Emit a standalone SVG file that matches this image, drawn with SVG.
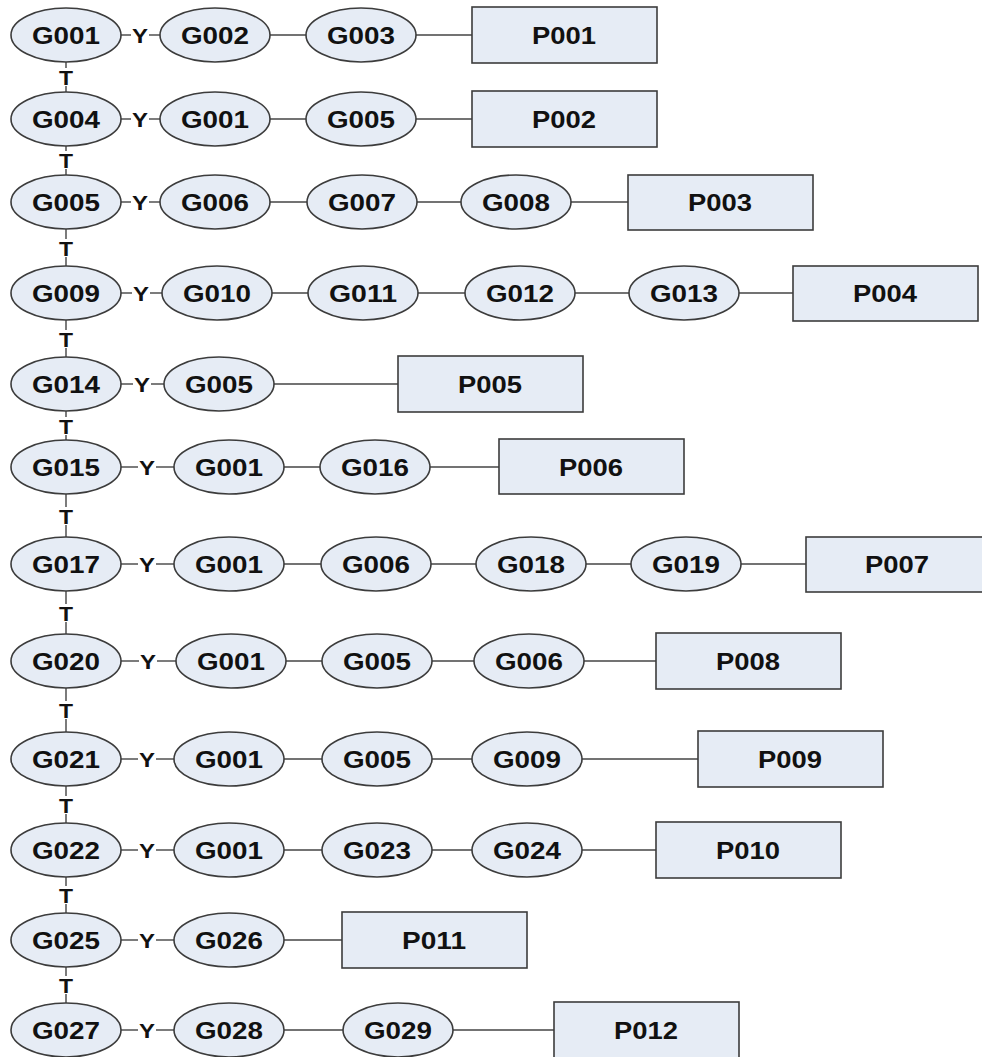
<svg xmlns="http://www.w3.org/2000/svg" width="982" height="1057" viewBox="0 0 982 1057">
<style>
.n{fill:#e6ecf5;stroke:#3c3c3c;stroke-width:1.6}
.p{fill:#e6ecf5;stroke:#3c3c3c;stroke-width:1.6}
.lb{font-family:"Liberation Sans",Arial,sans-serif;font-weight:bold;font-size:24px;fill:#111;text-anchor:middle}
.ty{font-family:"Liberation Sans",Arial,sans-serif;font-weight:bold;font-size:21px;fill:#111;text-anchor:middle}
.c line{stroke:#444;stroke-width:1.4}
</style>
<rect width="982" height="1057" fill="#fff"/>
<g class="c" id="connectors">
<line x1="121" y1="35" x2="131" y2="35"/><line x1="149" y1="35" x2="160" y2="35"/>
<line x1="270" y1="35" x2="306" y2="35"/><line x1="416" y1="35" x2="472" y2="35"/>
<line x1="121" y1="119" x2="131" y2="119"/><line x1="149" y1="119" x2="160" y2="119"/>
<line x1="270" y1="119" x2="306" y2="119"/><line x1="416" y1="119" x2="472" y2="119"/>
<line x1="121" y1="202" x2="131" y2="202"/><line x1="149" y1="202" x2="160" y2="202"/>
<line x1="270" y1="202" x2="307" y2="202"/><line x1="417" y1="202" x2="461" y2="202"/><line x1="571" y1="202" x2="628" y2="202"/>
<line x1="121" y1="293" x2="132" y2="293"/><line x1="150" y1="293" x2="162" y2="293"/>
<line x1="272" y1="293" x2="308" y2="293"/><line x1="418" y1="293" x2="465" y2="293"/><line x1="575" y1="293" x2="629" y2="293"/><line x1="739" y1="293" x2="793" y2="293"/>
<line x1="121" y1="384" x2="133" y2="384"/><line x1="151" y1="384" x2="164" y2="384"/>
<line x1="274" y1="384" x2="398" y2="384"/>
<line x1="121" y1="467" x2="138" y2="467"/><line x1="156" y1="467" x2="174" y2="467"/>
<line x1="284" y1="467" x2="320" y2="467"/><line x1="430" y1="467" x2="499" y2="467"/>
<line x1="121" y1="564" x2="138" y2="564"/><line x1="156" y1="564" x2="174" y2="564"/>
<line x1="284" y1="564" x2="321" y2="564"/><line x1="431" y1="564" x2="476" y2="564"/><line x1="586" y1="564" x2="631" y2="564"/><line x1="741" y1="564" x2="806" y2="564"/>
<line x1="121" y1="661" x2="139" y2="661"/><line x1="157" y1="661" x2="176" y2="661"/>
<line x1="286" y1="661" x2="322" y2="661"/><line x1="432" y1="661" x2="474" y2="661"/><line x1="584" y1="661" x2="656" y2="661"/>
<line x1="121" y1="759" x2="138" y2="759"/><line x1="156" y1="759" x2="174" y2="759"/>
<line x1="284" y1="759" x2="322" y2="759"/><line x1="432" y1="759" x2="472" y2="759"/><line x1="582" y1="759" x2="698" y2="759"/>
<line x1="121" y1="850" x2="138" y2="850"/><line x1="156" y1="850" x2="174" y2="850"/>
<line x1="284" y1="850" x2="322" y2="850"/><line x1="432" y1="850" x2="472" y2="850"/><line x1="582" y1="850" x2="656" y2="850"/>
<line x1="121" y1="940" x2="138" y2="940"/><line x1="156" y1="940" x2="174" y2="940"/>
<line x1="284" y1="940" x2="342" y2="940"/>
<line x1="121" y1="1030" x2="138" y2="1030"/><line x1="156" y1="1030" x2="174" y2="1030"/>
<line x1="284" y1="1030" x2="343" y2="1030"/><line x1="453" y1="1030" x2="554" y2="1030"/>
<line x1="66" y1="62" x2="66" y2="68"/><line x1="66" y1="86" x2="66" y2="92"/>
<line x1="66" y1="146" x2="66" y2="151"/><line x1="66" y1="169" x2="66" y2="175"/>
<line x1="66" y1="229" x2="66" y2="239"/><line x1="66" y1="257" x2="66" y2="266"/>
<line x1="66" y1="320" x2="66" y2="330"/><line x1="66" y1="348" x2="66" y2="357"/>
<line x1="66" y1="411" x2="66" y2="417"/><line x1="66" y1="435" x2="66" y2="440"/>
<line x1="66" y1="494" x2="66" y2="507"/><line x1="66" y1="525" x2="66" y2="537"/>
<line x1="66" y1="591" x2="66" y2="604"/><line x1="66" y1="622" x2="66" y2="634"/>
<line x1="66" y1="688" x2="66" y2="701"/><line x1="66" y1="719" x2="66" y2="732"/>
<line x1="66" y1="786" x2="66" y2="796"/><line x1="66" y1="814" x2="66" y2="823"/>
<line x1="66" y1="877" x2="66" y2="886"/><line x1="66" y1="904" x2="66" y2="913"/>
<line x1="66" y1="967" x2="66" y2="976"/><line x1="66" y1="994" x2="66" y2="1003"/>
</g>
<g id="edge-labels">
<text class="ty" x="66" y="85" textLength="14" lengthAdjust="spacingAndGlyphs">T</text>
<text class="ty" x="66" y="168" textLength="14" lengthAdjust="spacingAndGlyphs">T</text>
<text class="ty" x="66" y="256" textLength="14" lengthAdjust="spacingAndGlyphs">T</text>
<text class="ty" x="66" y="347" textLength="14" lengthAdjust="spacingAndGlyphs">T</text>
<text class="ty" x="66" y="434" textLength="14" lengthAdjust="spacingAndGlyphs">T</text>
<text class="ty" x="66" y="524" textLength="14" lengthAdjust="spacingAndGlyphs">T</text>
<text class="ty" x="66" y="621" textLength="14" lengthAdjust="spacingAndGlyphs">T</text>
<text class="ty" x="66" y="718" textLength="14" lengthAdjust="spacingAndGlyphs">T</text>
<text class="ty" x="66" y="813" textLength="14" lengthAdjust="spacingAndGlyphs">T</text>
<text class="ty" x="66" y="903" textLength="14" lengthAdjust="spacingAndGlyphs">T</text>
<text class="ty" x="66" y="993" textLength="14" lengthAdjust="spacingAndGlyphs">T</text>
<text class="ty" x="140" y="43" textLength="16" lengthAdjust="spacingAndGlyphs">Y</text>
<text class="ty" x="140" y="127" textLength="16" lengthAdjust="spacingAndGlyphs">Y</text>
<text class="ty" x="140" y="210" textLength="16" lengthAdjust="spacingAndGlyphs">Y</text>
<text class="ty" x="141" y="301" textLength="16" lengthAdjust="spacingAndGlyphs">Y</text>
<text class="ty" x="142" y="392" textLength="16" lengthAdjust="spacingAndGlyphs">Y</text>
<text class="ty" x="147" y="475" textLength="16" lengthAdjust="spacingAndGlyphs">Y</text>
<text class="ty" x="147" y="572" textLength="16" lengthAdjust="spacingAndGlyphs">Y</text>
<text class="ty" x="148" y="669" textLength="16" lengthAdjust="spacingAndGlyphs">Y</text>
<text class="ty" x="147" y="767" textLength="16" lengthAdjust="spacingAndGlyphs">Y</text>
<text class="ty" x="147" y="858" textLength="16" lengthAdjust="spacingAndGlyphs">Y</text>
<text class="ty" x="147" y="948" textLength="16" lengthAdjust="spacingAndGlyphs">Y</text>
<text class="ty" x="147" y="1038" textLength="16" lengthAdjust="spacingAndGlyphs">Y</text>
</g>
<g id="r1-G001"><ellipse class="n" cx="66" cy="35" rx="55" ry="27"/><text class="lb" x="66" y="44" textLength="68" lengthAdjust="spacingAndGlyphs">G001</text></g>
<g id="r1-G002"><ellipse class="n" cx="215" cy="35" rx="55" ry="27"/><text class="lb" x="215" y="44" textLength="68" lengthAdjust="spacingAndGlyphs">G002</text></g>
<g id="r1-G003"><ellipse class="n" cx="361" cy="35" rx="55" ry="27"/><text class="lb" x="361" y="44" textLength="68" lengthAdjust="spacingAndGlyphs">G003</text></g>
<g id="r1-P001"><rect class="p" x="472" y="7" width="185" height="56"/><text class="lb" x="564" y="44" textLength="64" lengthAdjust="spacingAndGlyphs">P001</text></g>
<g id="r2-G004"><ellipse class="n" cx="66" cy="119" rx="55" ry="27"/><text class="lb" x="66" y="128" textLength="68" lengthAdjust="spacingAndGlyphs">G004</text></g>
<g id="r2-G001"><ellipse class="n" cx="215" cy="119" rx="55" ry="27"/><text class="lb" x="215" y="128" textLength="68" lengthAdjust="spacingAndGlyphs">G001</text></g>
<g id="r2-G005"><ellipse class="n" cx="361" cy="119" rx="55" ry="27"/><text class="lb" x="361" y="128" textLength="68" lengthAdjust="spacingAndGlyphs">G005</text></g>
<g id="r2-P002"><rect class="p" x="472" y="91" width="185" height="56"/><text class="lb" x="564" y="128" textLength="64" lengthAdjust="spacingAndGlyphs">P002</text></g>
<g id="r3-G005"><ellipse class="n" cx="66" cy="202" rx="55" ry="27"/><text class="lb" x="66" y="211" textLength="68" lengthAdjust="spacingAndGlyphs">G005</text></g>
<g id="r3-G006"><ellipse class="n" cx="215" cy="202" rx="55" ry="27"/><text class="lb" x="215" y="211" textLength="68" lengthAdjust="spacingAndGlyphs">G006</text></g>
<g id="r3-G007"><ellipse class="n" cx="362" cy="202" rx="55" ry="27"/><text class="lb" x="362" y="211" textLength="68" lengthAdjust="spacingAndGlyphs">G007</text></g>
<g id="r3-G008"><ellipse class="n" cx="516" cy="202" rx="55" ry="27"/><text class="lb" x="516" y="211" textLength="68" lengthAdjust="spacingAndGlyphs">G008</text></g>
<g id="r3-P003"><rect class="p" x="628" y="175" width="185" height="55"/><text class="lb" x="720" y="211" textLength="64" lengthAdjust="spacingAndGlyphs">P003</text></g>
<g id="r4-G009"><ellipse class="n" cx="66" cy="293" rx="55" ry="27"/><text class="lb" x="66" y="302" textLength="68" lengthAdjust="spacingAndGlyphs">G009</text></g>
<g id="r4-G010"><ellipse class="n" cx="217" cy="293" rx="55" ry="27"/><text class="lb" x="217" y="302" textLength="68" lengthAdjust="spacingAndGlyphs">G010</text></g>
<g id="r4-G011"><ellipse class="n" cx="363" cy="293" rx="55" ry="27"/><text class="lb" x="363" y="302" textLength="68" lengthAdjust="spacingAndGlyphs">G011</text></g>
<g id="r4-G012"><ellipse class="n" cx="520" cy="293" rx="55" ry="27"/><text class="lb" x="520" y="302" textLength="68" lengthAdjust="spacingAndGlyphs">G012</text></g>
<g id="r4-G013"><ellipse class="n" cx="684" cy="293" rx="55" ry="27"/><text class="lb" x="684" y="302" textLength="68" lengthAdjust="spacingAndGlyphs">G013</text></g>
<g id="r4-P004"><rect class="p" x="793" y="266" width="185" height="55"/><text class="lb" x="885" y="302" textLength="64" lengthAdjust="spacingAndGlyphs">P004</text></g>
<g id="r5-G014"><ellipse class="n" cx="66" cy="384" rx="55" ry="27"/><text class="lb" x="66" y="393" textLength="68" lengthAdjust="spacingAndGlyphs">G014</text></g>
<g id="r5-G005"><ellipse class="n" cx="219" cy="384" rx="55" ry="27"/><text class="lb" x="219" y="393" textLength="68" lengthAdjust="spacingAndGlyphs">G005</text></g>
<g id="r5-P005"><rect class="p" x="398" y="356" width="185" height="56"/><text class="lb" x="490" y="393" textLength="64" lengthAdjust="spacingAndGlyphs">P005</text></g>
<g id="r6-G015"><ellipse class="n" cx="66" cy="467" rx="55" ry="27"/><text class="lb" x="66" y="476" textLength="68" lengthAdjust="spacingAndGlyphs">G015</text></g>
<g id="r6-G001"><ellipse class="n" cx="229" cy="467" rx="55" ry="27"/><text class="lb" x="229" y="476" textLength="68" lengthAdjust="spacingAndGlyphs">G001</text></g>
<g id="r6-G016"><ellipse class="n" cx="375" cy="467" rx="55" ry="27"/><text class="lb" x="375" y="476" textLength="68" lengthAdjust="spacingAndGlyphs">G016</text></g>
<g id="r6-P006"><rect class="p" x="499" y="439" width="185" height="55"/><text class="lb" x="591" y="476" textLength="64" lengthAdjust="spacingAndGlyphs">P006</text></g>
<g id="r7-G017"><ellipse class="n" cx="66" cy="564" rx="55" ry="27"/><text class="lb" x="66" y="573" textLength="68" lengthAdjust="spacingAndGlyphs">G017</text></g>
<g id="r7-G001"><ellipse class="n" cx="229" cy="564" rx="55" ry="27"/><text class="lb" x="229" y="573" textLength="68" lengthAdjust="spacingAndGlyphs">G001</text></g>
<g id="r7-G006"><ellipse class="n" cx="376" cy="564" rx="55" ry="27"/><text class="lb" x="376" y="573" textLength="68" lengthAdjust="spacingAndGlyphs">G006</text></g>
<g id="r7-G018"><ellipse class="n" cx="531" cy="564" rx="55" ry="27"/><text class="lb" x="531" y="573" textLength="68" lengthAdjust="spacingAndGlyphs">G018</text></g>
<g id="r7-G019"><ellipse class="n" cx="686" cy="564" rx="55" ry="27"/><text class="lb" x="686" y="573" textLength="68" lengthAdjust="spacingAndGlyphs">G019</text></g>
<g id="r7-P007"><rect class="p" x="806" y="537" width="185" height="55"/><text class="lb" x="897" y="573" textLength="64" lengthAdjust="spacingAndGlyphs">P007</text></g>
<g id="r8-G020"><ellipse class="n" cx="66" cy="661" rx="55" ry="27"/><text class="lb" x="66" y="670" textLength="68" lengthAdjust="spacingAndGlyphs">G020</text></g>
<g id="r8-G001"><ellipse class="n" cx="231" cy="661" rx="55" ry="27"/><text class="lb" x="231" y="670" textLength="68" lengthAdjust="spacingAndGlyphs">G001</text></g>
<g id="r8-G005"><ellipse class="n" cx="377" cy="661" rx="55" ry="27"/><text class="lb" x="377" y="670" textLength="68" lengthAdjust="spacingAndGlyphs">G005</text></g>
<g id="r8-G006"><ellipse class="n" cx="529" cy="661" rx="55" ry="27"/><text class="lb" x="529" y="670" textLength="68" lengthAdjust="spacingAndGlyphs">G006</text></g>
<g id="r8-P008"><rect class="p" x="656" y="633" width="185" height="56"/><text class="lb" x="748" y="670" textLength="64" lengthAdjust="spacingAndGlyphs">P008</text></g>
<g id="r9-G021"><ellipse class="n" cx="66" cy="759" rx="55" ry="27"/><text class="lb" x="66" y="768" textLength="68" lengthAdjust="spacingAndGlyphs">G021</text></g>
<g id="r9-G001"><ellipse class="n" cx="229" cy="759" rx="55" ry="27"/><text class="lb" x="229" y="768" textLength="68" lengthAdjust="spacingAndGlyphs">G001</text></g>
<g id="r9-G005"><ellipse class="n" cx="377" cy="759" rx="55" ry="27"/><text class="lb" x="377" y="768" textLength="68" lengthAdjust="spacingAndGlyphs">G005</text></g>
<g id="r9-G009"><ellipse class="n" cx="527" cy="759" rx="55" ry="27"/><text class="lb" x="527" y="768" textLength="68" lengthAdjust="spacingAndGlyphs">G009</text></g>
<g id="r9-P009"><rect class="p" x="698" y="731" width="185" height="56"/><text class="lb" x="790" y="768" textLength="64" lengthAdjust="spacingAndGlyphs">P009</text></g>
<g id="r10-G022"><ellipse class="n" cx="66" cy="850" rx="55" ry="27"/><text class="lb" x="66" y="859" textLength="68" lengthAdjust="spacingAndGlyphs">G022</text></g>
<g id="r10-G001"><ellipse class="n" cx="229" cy="850" rx="55" ry="27"/><text class="lb" x="229" y="859" textLength="68" lengthAdjust="spacingAndGlyphs">G001</text></g>
<g id="r10-G023"><ellipse class="n" cx="377" cy="850" rx="55" ry="27"/><text class="lb" x="377" y="859" textLength="68" lengthAdjust="spacingAndGlyphs">G023</text></g>
<g id="r10-G024"><ellipse class="n" cx="527" cy="850" rx="55" ry="27"/><text class="lb" x="527" y="859" textLength="68" lengthAdjust="spacingAndGlyphs">G024</text></g>
<g id="r10-P010"><rect class="p" x="656" y="822" width="185" height="56"/><text class="lb" x="748" y="859" textLength="64" lengthAdjust="spacingAndGlyphs">P010</text></g>
<g id="r11-G025"><ellipse class="n" cx="66" cy="940" rx="55" ry="27"/><text class="lb" x="66" y="949" textLength="68" lengthAdjust="spacingAndGlyphs">G025</text></g>
<g id="r11-G026"><ellipse class="n" cx="229" cy="940" rx="55" ry="27"/><text class="lb" x="229" y="949" textLength="68" lengthAdjust="spacingAndGlyphs">G026</text></g>
<g id="r11-P011"><rect class="p" x="342" y="912" width="185" height="56"/><text class="lb" x="434" y="949" textLength="64" lengthAdjust="spacingAndGlyphs">P011</text></g>
<g id="r12-G027"><ellipse class="n" cx="66" cy="1030" rx="55" ry="27"/><text class="lb" x="66" y="1039" textLength="68" lengthAdjust="spacingAndGlyphs">G027</text></g>
<g id="r12-G028"><ellipse class="n" cx="229" cy="1030" rx="55" ry="27"/><text class="lb" x="229" y="1039" textLength="68" lengthAdjust="spacingAndGlyphs">G028</text></g>
<g id="r12-G029"><ellipse class="n" cx="398" cy="1030" rx="55" ry="27"/><text class="lb" x="398" y="1039" textLength="68" lengthAdjust="spacingAndGlyphs">G029</text></g>
<g id="r12-P012"><rect class="p" x="554" y="1002" width="185" height="56"/><text class="lb" x="646" y="1039" textLength="64" lengthAdjust="spacingAndGlyphs">P012</text></g>
</svg>
